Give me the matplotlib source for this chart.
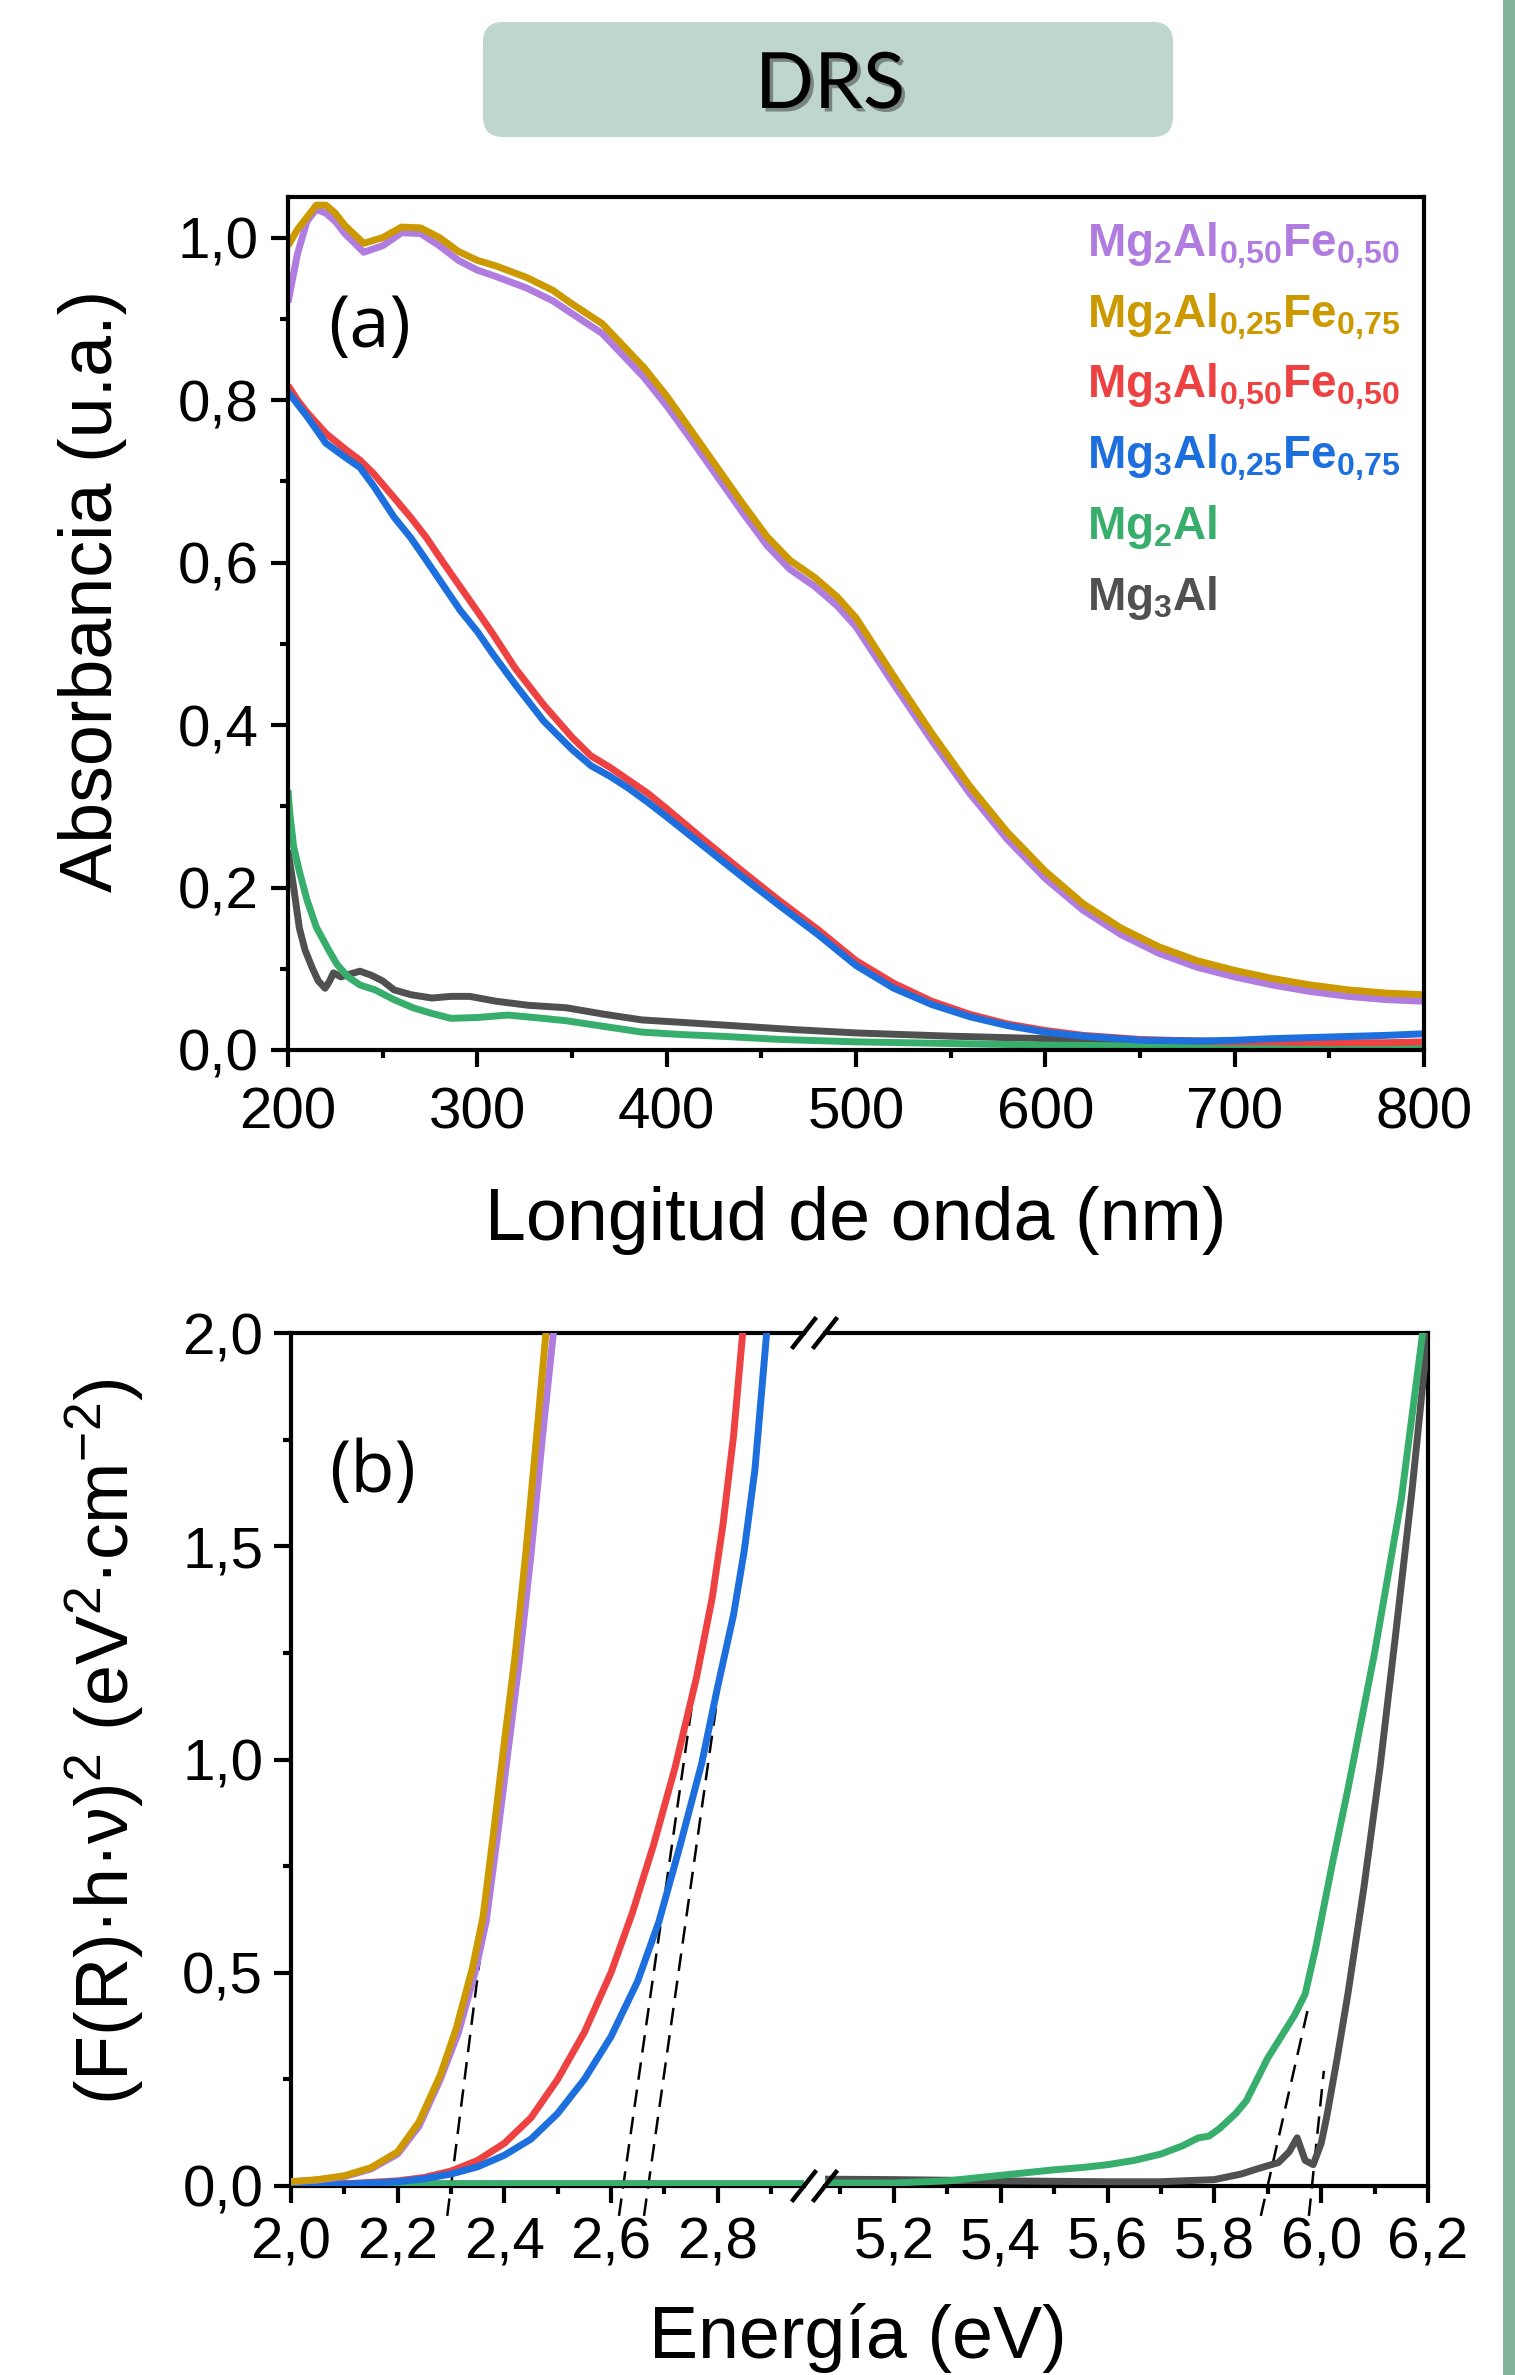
import matplotlib.pyplot as plt
import matplotlib.patheffects as pe
from matplotlib.ticker import MultipleLocator, FuncFormatter
from matplotlib.patches import FancyBboxPatch, Rectangle
from matplotlib.lines import Line2D

plt.rcParams['font.family'] = ['Liberation Sans', 'DejaVu Sans']
plt.rcParams['mathtext.fontset'] = 'custom'
plt.rcParams['mathtext.rm'] = 'Liberation Sans'
plt.rcParams['mathtext.bf'] = 'Liberation Sans:bold'
plt.rcParams['mathtext.default'] = 'regular'

# ---- sample names and colours ----
names = [r'Mg$_2$Al$_{0{,}50}$Fe$_{0{,}50}$',
         r'Mg$_2$Al$_{0{,}25}$Fe$_{0{,}75}$',
         r'Mg$_3$Al$_{0{,}50}$Fe$_{0{,}50}$',
         r'Mg$_3$Al$_{0{,}25}$Fe$_{0{,}75}$',
         r'Mg$_2$Al',
         r'Mg$_3$Al']
colors = ['#b07ce0', '#cc9900', '#ee4242', '#1c6fdc', '#37ae6b', '#505050']

# ---- (a) absorbance spectra ----
wl_fe2 = [200, 205, 210, 215, 220, 225, 230, 240, 250, 260, 270, 280, 290, 300,
          310, 326, 340, 349, 366, 388, 400, 414, 427, 440, 453, 465, 478, 490,
          500, 520, 540, 560, 580, 600, 620, 640, 660, 680, 700, 720, 740, 760,
          780, 800]
abs_mg2_050 = [0.92, 0.98, 1.02, 1.035, 1.03, 1.02, 1.005, 0.982, 0.99, 1.006,
               1.005, 0.99, 0.972, 0.96, 0.952, 0.938, 0.922, 0.908, 0.882,
               0.828, 0.793, 0.748, 0.705, 0.662, 0.621, 0.592, 0.571, 0.547,
               0.521, 0.45, 0.381, 0.316, 0.259, 0.211, 0.172, 0.142, 0.119,
               0.102, 0.09, 0.08, 0.072, 0.066, 0.062, 0.06]
abs_mg2_025 = [0.99, 1.01, 1.025, 1.04, 1.04, 1.03, 1.015, 0.993, 1.0, 1.013,
               1.012, 1.0, 0.983, 0.972, 0.965, 0.951, 0.935, 0.92, 0.894,
               0.84, 0.805, 0.759, 0.716, 0.673, 0.632, 0.603, 0.582, 0.558,
               0.532, 0.46, 0.39, 0.325, 0.268, 0.22, 0.18, 0.15, 0.127, 0.11,
               0.098, 0.088, 0.08, 0.074, 0.07, 0.068]

wl_fe3 = [200, 205, 210, 220, 230, 238, 245, 256, 265, 273, 282, 291, 300, 308,
          320, 335, 350, 360, 370, 380, 390, 400, 420, 440, 460, 480, 500, 520,
          540, 560, 580, 600, 620, 650, 680, 700, 720, 750, 780, 800]
abs_mg3_050 = [0.818, 0.80, 0.785, 0.759, 0.74, 0.726, 0.71, 0.68, 0.655,
               0.631, 0.60, 0.57, 0.54, 0.513, 0.47, 0.425, 0.385, 0.362,
               0.348, 0.332, 0.316, 0.297, 0.258, 0.22, 0.183, 0.148, 0.11,
               0.082, 0.06, 0.044, 0.032, 0.024, 0.018, 0.013, 0.011, 0.01,
               0.01, 0.009, 0.009, 0.01]
abs_mg3_025 = [0.81, 0.795, 0.78, 0.747, 0.73, 0.717, 0.695, 0.656, 0.63,
               0.603, 0.572, 0.541, 0.515, 0.488, 0.45, 0.405, 0.37, 0.35,
               0.337, 0.322, 0.305, 0.287, 0.25, 0.213, 0.177, 0.142, 0.104,
               0.076, 0.056, 0.041, 0.03, 0.022, 0.017, 0.012, 0.011, 0.012,
               0.014, 0.016, 0.018, 0.02]

wl_mg2al = [200, 201, 203, 206, 210, 215, 221.5, 226, 231.7, 238, 246, 256,
            266, 276, 286, 300, 316, 330, 347, 367, 387, 408, 428, 460, 500,
            550, 600, 650, 700, 750, 800]
abs_mg2al = [0.32, 0.29, 0.25, 0.22, 0.185, 0.151, 0.123, 0.105, 0.09, 0.08,
             0.074, 0.062, 0.052, 0.045, 0.039, 0.04, 0.043, 0.04, 0.036,
             0.029, 0.022, 0.019, 0.017, 0.013, 0.01, 0.008, 0.006, 0.005,
             0.004, 0.004, 0.003]

wl_mg3al = [200, 203, 206, 209, 213, 216, 219.6, 222, 224, 228, 232, 238, 244,
            250, 256, 265, 276, 286, 296, 310, 327, 347, 367, 387, 408, 428,
            448, 468, 500, 550, 600, 650, 700, 750, 800]
abs_mg3al = [0.246, 0.2, 0.15, 0.123, 0.1, 0.085, 0.076, 0.085, 0.095, 0.09,
             0.093, 0.097, 0.092, 0.085, 0.074, 0.068, 0.064, 0.066, 0.066,
             0.06, 0.055, 0.052, 0.044, 0.037, 0.034, 0.031, 0.028, 0.025,
             0.021, 0.017, 0.014, 0.012, 0.01, 0.008, 0.007]

# ---- (b) Tauc plots ----
e_mg2_050 = [2.00, 2.05, 2.10, 2.15, 2.20, 2.24, 2.28, 2.314, 2.345, 2.366,
             2.387, 2.408, 2.429, 2.450, 2.471, 2.492]
t_mg2_050 = [0.01, 0.014, 0.022, 0.04, 0.075, 0.14, 0.25, 0.36, 0.50, 0.62,
             0.82, 1.03, 1.24, 1.48, 1.75, 2.0]
e_mg2_025 = [2.00, 2.05, 2.10, 2.15, 2.20, 2.24, 2.28, 2.31, 2.34, 2.36, 2.38,
             2.40, 2.42, 2.44, 2.46, 2.478]
t_mg2_025 = [0.01, 0.015, 0.024, 0.043, 0.08, 0.15, 0.26, 0.37, 0.51, 0.63,
             0.83, 1.04, 1.24, 1.48, 1.75, 2.0]
e_mg3_050 = [2.00, 2.10, 2.20, 2.25, 2.30, 2.35, 2.40, 2.45, 2.50, 2.55, 2.60,
             2.64, 2.68, 2.72, 2.76, 2.79, 2.81, 2.83, 2.847]
t_mg3_050 = [0.002, 0.005, 0.012, 0.02, 0.035, 0.06, 0.10, 0.16, 0.25, 0.36,
             0.50, 0.64, 0.80, 0.98, 1.19, 1.38, 1.55, 1.76, 2.0]
e_mg3_025 = [2.00, 2.10, 2.20, 2.25, 2.30, 2.35, 2.40, 2.45, 2.50, 2.55, 2.60,
             2.65, 2.69, 2.73, 2.77, 2.80, 2.83, 2.85, 2.87, 2.892]
t_mg3_025 = [0.002, 0.004, 0.01, 0.017, 0.028, 0.045, 0.072, 0.11, 0.17, 0.25,
             0.35, 0.48, 0.62, 0.80, 0.99, 1.17, 1.34, 1.49, 1.68, 2.0]
e_mg2al = [2.00, 2.96, 5.07, 5.2, 5.3, 5.4, 5.5, 5.55, 5.6, 5.65, 5.7, 5.74,
           5.77, 5.79, 5.81, 5.84, 5.86, 5.88, 5.9, 5.93, 5.95, 5.97, 5.99,
           6.02, 6.05, 6.1, 6.15, 6.19]
t_mg2al = [0.005, 0.005, 0.007, 0.007, 0.012, 0.025, 0.038, 0.043, 0.05, 0.06,
           0.075, 0.094, 0.113, 0.117, 0.135, 0.17, 0.2, 0.25, 0.3, 0.36, 0.4,
           0.45, 0.56, 0.75, 0.93, 1.25, 1.61, 2.0]
e_mg3al = [2.00, 2.96, 5.07, 5.2, 5.4, 5.6, 5.7, 5.8, 5.85, 5.88, 5.92, 5.94,
           5.955, 5.97, 5.985, 6.0, 6.01, 6.03, 6.05, 6.08, 6.11, 6.14, 6.17,
           6.2]
t_mg3al = [0.005, 0.005, 0.016, 0.015, 0.012, 0.01, 0.01, 0.015, 0.028, 0.04,
           0.055, 0.08, 0.113, 0.06, 0.05, 0.1, 0.16, 0.3, 0.45, 0.7, 0.98,
           1.3, 1.63, 2.0]

# band-gap extrapolations (E, value pairs)
fit_left = [([2.293, 2.367], [-0.07, 0.66]),
            ([2.615, 2.763], [-0.07, 1.225]),
            ([2.662, 2.801], [-0.07, 1.157])]
fit_right = [([5.887, 5.976], [-0.07, 0.42]),
             ([5.977, 6.005], [-0.07, 0.27])]

W, H = 1515, 2375
fig = plt.figure(figsize=(W / 100, H / 100), dpi=100)


def axes_px(x0, y_top, w, h):
    return fig.add_axes([x0 / W, 1 - (y_top + h) / H, w / W, h / H])


comma1 = FuncFormatter(lambda v, p: f'{v:.1f}'.replace('.', ','))


def style(ax):
    for s in ax.spines.values():
        s.set_linewidth(3)
    ax.tick_params(which='both', direction='out', width=3, labelsize=42,
                   top=False, right=False)
    ax.tick_params(which='major', length=12)
    ax.tick_params(which='minor', length=6)


# ---- panel (a) ----
ax = axes_px(288, 197, 1136, 853)
style(ax)
a_series = [(wl_mg3al, abs_mg3al, 5), (wl_mg2al, abs_mg2al, 4),
            (wl_fe3, abs_mg3_050, 2), (wl_fe3, abs_mg3_025, 3),
            (wl_fe2, abs_mg2_050, 0), (wl_fe2, abs_mg2_025, 1)]
for x, y, i in a_series:
    ax.plot(x, y, color=colors[i], lw=5, solid_capstyle='butt')
ax.set_xlim(200, 800)
ax.set_ylim(0, 1.05)
ax.xaxis.set_major_locator(MultipleLocator(100))
ax.xaxis.set_minor_locator(MultipleLocator(50))
ax.yaxis.set_major_locator(MultipleLocator(0.2))
ax.yaxis.set_minor_locator(MultipleLocator(0.1))
ax.yaxis.set_major_formatter(comma1)
ax.tick_params(axis='x', pad=14)
ax.tick_params(axis='y', pad=9)
ax.text(0.072, 0.846, '(a)', transform=ax.transAxes, ha='center',
        va='center', fontsize=52, family='Open Sans')
for k, (lab, c) in enumerate(zip(names, colors)):
    ax.text(0.703, 0.930 - k * 0.0828, lab, transform=ax.transAxes,
            ha='left', va='baseline', fontsize=33, fontweight='bold', color=c)
fig.text(93 / W, 1 - 591 / H, 'Absorbancia (u.a.)', rotation=90,
         ha='center', va='center', fontsize=53)
fig.text(856 / W, 1 - 1240 / H, 'Longitud de onda (nm)', ha='center',
         va='baseline', fontsize=53)

# ---- panel (b), broken energy axis ----
axl = axes_px(291, 1333, 513, 853)
axr = axes_px(825, 1333, 603, 853)
for a in (axl, axr):
    style(a)
    a.set_ylim(0, 2.0)
    a.xaxis.set_major_locator(MultipleLocator(0.2))
    a.xaxis.set_minor_locator(MultipleLocator(0.1))
    a.xaxis.set_major_formatter(comma1)
    a.tick_params(axis='x', pad=10)
    b_series = [(e_mg3al, t_mg3al, 5), (e_mg2al, t_mg2al, 4),
                (e_mg3_050, t_mg3_050, 2), (e_mg3_025, t_mg3_025, 3),
                (e_mg2_050, t_mg2_050, 0), (e_mg2_025, t_mg2_025, 1)]
    for x, y, i in b_series:
        a.plot(x, y, color=colors[i], lw=5, zorder=3)
axl.set_xlim(2.0, 2.962)
axr.set_xlim(5.071, 6.2)
axl.spines['right'].set_visible(False)
axr.spines['left'].set_visible(False)
axr.tick_params(axis='y', left=False, labelleft=False)
axl.yaxis.set_major_locator(MultipleLocator(0.5))
axl.yaxis.set_minor_locator(MultipleLocator(0.25))
axl.yaxis.set_major_formatter(comma1)
axl.tick_params(axis='y', pad=8)
for a, fits in ((axl, fit_left), (axr, fit_right)):
    for x, y in fits:
        a.plot(x, y, color='black', lw=1.8, dashes=(7, 4), zorder=2,
               clip_on=False)
axl.text(0.159, 0.836, '(b)', transform=axl.transAxes, ha='center',
         va='center', fontsize=52, family='Open Sans')

# break marks on top and bottom spines
for cy in (1333, 2186):
    for cx in (804, 825):
        fig.add_artist(Line2D([(cx - 11) / W, (cx + 11) / W],
                              [1 - (cy + 14) / H, 1 - (cy - 14) / H],
                              transform=fig.transFigure, color='black',
                              lw=3.2))

fig.text(105 / W, 1 - 1742 / H,
         '(F(R)·h·ν)$^2$ (eV$^2$·cm$^{-2}$)', rotation=90, ha='center',
         va='center', fontsize=53)
fig.text(858 / W, 1 - 2358 / H, 'Energía (eV)', ha='center', va='baseline',
         fontsize=53)

# ---- header box and side bar ----
fig.add_artist(FancyBboxPatch((4.83, 22.38), 6.90, 1.15,
                              boxstyle='round,pad=0,rounding_size=0.2',
                              transform=fig.dpi_scale_trans,
                              facecolor='#bed6cb', edgecolor='none'))
fig.text(8.30, 22.67, 'DRS', transform=fig.dpi_scale_trans, ha='center',
         va='baseline', fontsize=56, family='Lato', color='black',
         path_effects=[pe.SimplePatchShadow(offset=(2.5, -2.5),
                                            shadow_rgbFace='#333333',
                                            alpha=0.5),
                       pe.Normal()])
fig.add_artist(Rectangle((15.03, 0), 0.12, 23.75,
                         transform=fig.dpi_scale_trans,
                         facecolor='#84b39c', edgecolor='none'))

fig.savefig('out.png', dpi=100)
